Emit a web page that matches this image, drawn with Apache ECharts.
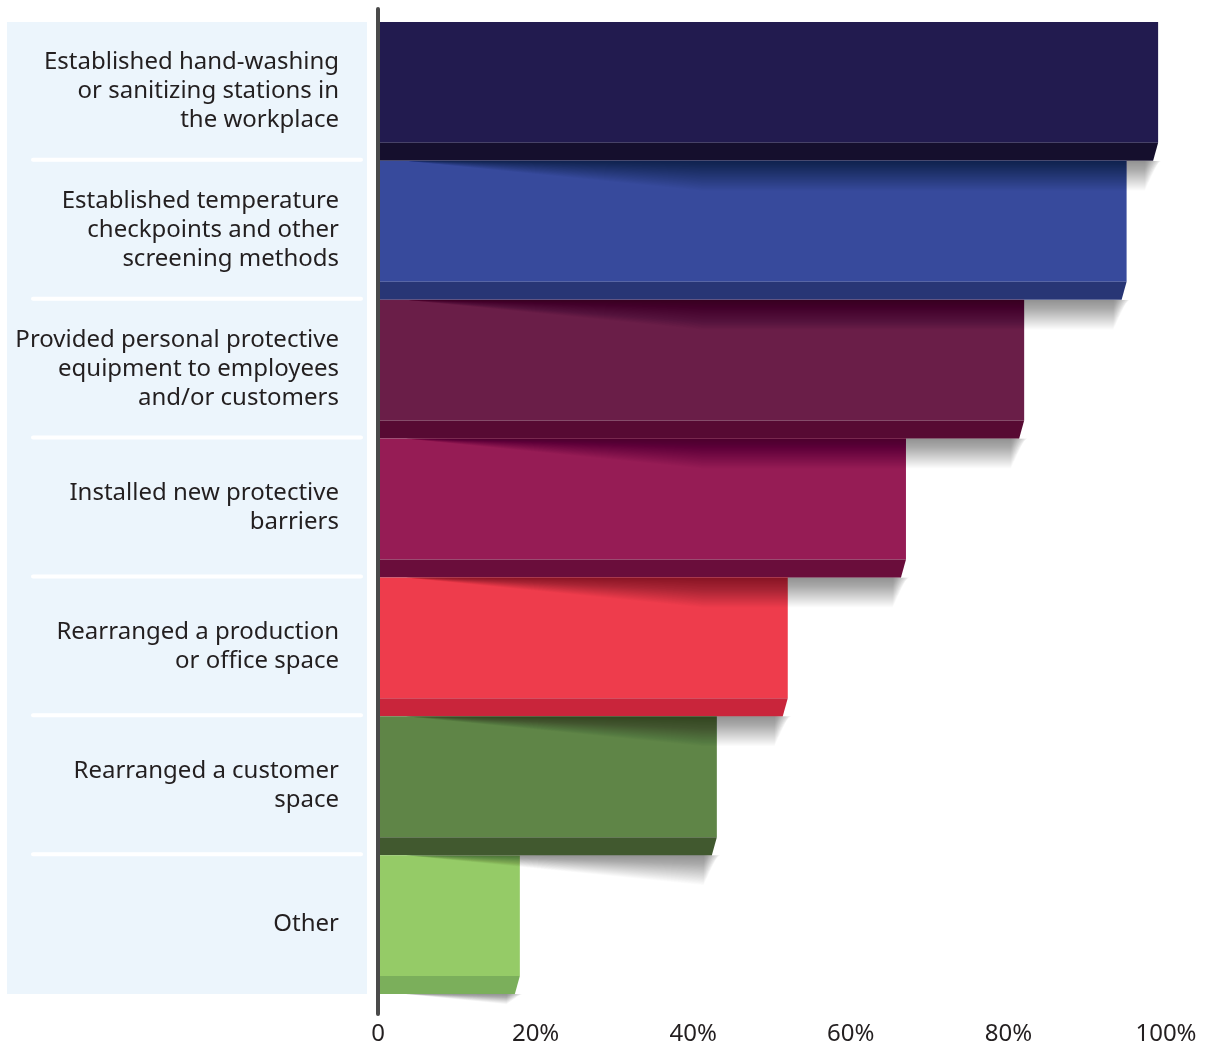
<!DOCTYPE html>
<html>
<head>
<meta charset="utf-8">
<title>Workplace safety measures</title>
<script src="https://cdn.jsdelivr.net/npm/echarts@6/dist/echarts.min.js"></script>
<style>
  html, body { margin: 0; padding: 0; background: #ffffff; }
  #chart { width: 1207px; height: 1050px; }
</style>
</head>
<body>
<div id="chart"></div>
<script>
// Measures taken, share of respondents (%)
const categories = [
  'Established hand-washing\nor sanitizing stations in\nthe workplace',
  'Established temperature\ncheckpoints and other\nscreening methods',
  'Provided personal protective\nequipment to employees\nand/or customers',
  'Installed new protective\nbarriers',
  'Rearranged a production\nor office space',
  'Rearranged a customer\nspace',
  'Other'
];
const shares = [99, 95, 82, 67, 52, 43, 18];
const tickValues = [0, 20, 40, 60, 80, 100];

// Front face and lower bevel colour for each bar
const faceColors = ['#221B4F', '#374A9C', '#6A1E48', '#961C55', '#EE3C4C', '#5F8547', '#95CB67'];
const edgeColors = ['#150F2D', '#283675', '#570A33', '#6A0D3B', '#C9253B', '#41592F', '#7BAF5B'];

const FONT = '"Noto Sans", "Open Sans", sans-serif';
const EDGE = 18;      // height of the bevel strip under each bar
const SLANT = 5;      // inward slant of the bevel's right end

const chart = echarts.init(document.getElementById('chart'), null, { renderer: 'canvas' });

function bandOf(api, cat) {
  const c = api.coord([0, cat]);
  const h = api.size([0, 1])[1];
  return { x0: c[0], top: c[1] - h / 2, bottom: c[1] + h / 2, h: h };
}

// Bar body: flat face plus a darker bevel along the bottom
function renderBar(params, api) {
  const i = params.dataIndex;
  const v = api.value(0);
  const cat = api.value(1);
  const b = bandOf(api, cat);
  const x1 = api.coord([v, cat])[0];
  return {
    type: 'group',
    children: [
      {
        type: 'rect',
        shape: { x: b.x0, y: b.top, width: x1 - b.x0, height: b.h - EDGE },
        style: { fill: faceColors[i] }
      },
      {
        type: 'polygon',
        shape: { points: [[b.x0, b.bottom - EDGE], [x1, b.bottom - EDGE], [x1 - SLANT, b.bottom], [b.x0, b.bottom]] },
        style: { fill: edgeColors[i] }
      }
    ]
  };
}

// Soft wedge shadow under each bar: it grows from nothing near the baseline
// to a fixed depth, built from many faint stacked layers so it fades downwards.
function renderShadow(params, api) {
  const v = api.value(0);
  const cat = api.value(1);
  const b = bandOf(api, cat);
  const xs = b.x0 + 25;                       // where the wedge starts
  const xr = api.coord([v, cat])[0] - SLANT;  // bevel's lower right corner
  const y = b.bottom;
  const slope = 0.1;
  const maxDepth = 30;
  const depthAt = x => Math.min(maxDepth, Math.max(0, (x - xs) * slope));
  const xCap = Math.min(xr, xs + maxDepth / slope);
  const n = 40;
  const layers = [];
  for (let k = 1; k <= n; k++) {
    const f = k / n;
    const xe = xr + 6 - 14 * f;               // right end pulls in for the deeper layers
    const pts = [[xs, y], [xe + 4 * (1 - f), y]];
    pts.push([xe, y + depthAt(Math.min(xe, xr)) * f]);
    if (xCap < xe) pts.push([xCap, y + depthAt(xCap) * f]);
    pts.push([xs, y]);
    layers.push({
      type: 'polygon',
      shape: { points: pts },
      style: { fill: 'rgba(0,0,0,0.012)' }
    });
  }
  return { type: 'group', children: layers };
}

// White separators of the label panel
function renderFrame(params, api) {
  const n = categories.length;
  const children = [];
  for (let i = 1; i < n; i++) {
    const y = bandOf(api, i).top - 1;
    children.push({
      type: 'line',
      shape: { x1: 33, y1: y, x2: 361, y2: y },
      style: { stroke: '#ffffff', lineWidth: 4, lineCap: 'round' }
    });
  }
  return { type: 'group', children: children };
}

// Vertical baseline at zero, running a little past the bars
function renderBaseline(params, api) {
  const first = bandOf(api, 0);
  const last = bandOf(api, categories.length - 1);
  return {
    type: 'line',
    shape: { x1: first.x0, y1: first.top - 13, x2: first.x0, y2: last.bottom + 20 },
    style: { stroke: '#4A4A4A', lineWidth: 4, lineCap: 'round' }
  };
}

const barData = shares.map((v, i) => [v, i]);

chart.setOption({
  animation: false,
  backgroundColor: '#ffffff',
  textStyle: { fontFamily: FONT },
  graphic: [
    {
      type: 'rect',
      z: -10,
      left: 7,
      top: 22,
      shape: { width: 360, height: 972 },
      style: { fill: '#ECF5FC' }
    }
  ],
  grid: { left: 378, right: 41, top: 22, bottom: 56, containLabel: false },
  xAxis: {
    type: 'value',
    min: tickValues[0],
    max: tickValues[tickValues.length - 1],
    interval: 20,
    axisLine: { show: false },
    axisTick: { show: false },
    splitLine: { show: false },
    axisLabel: {
      margin: 28,
      fontSize: 24,
      fontFamily: FONT,
      color: '#231F20',
      formatter: v => (v === 0 ? '0' : v + '%')
    }
  },
  yAxis: {
    type: 'category',
    inverse: true,
    data: categories,
    axisLine: { show: false },
    axisTick: { show: false },
    splitLine: { show: false },
    axisLabel: {
      margin: 39,
      fontSize: 24,
      lineHeight: 29,
      fontFamily: FONT,
      color: '#231F20',
      align: 'right'
    }
  },
  series: [
    {
      type: 'custom',
      name: 'frame',
      clip: false,
      z: 1,
      silent: true,
      renderItem: renderFrame,
      encode: { x: 0, y: 1 },
      data: [[0, 0]]
    },
    {
      type: 'custom',
      name: 'bars',
      clip: false,
      z: 2,
      renderItem: renderBar,
      encode: { x: 0, y: 1 },
      data: barData
    },
    {
      type: 'custom',
      name: 'shadows',
      clip: false,
      z: 3,
      silent: true,
      renderItem: renderShadow,
      encode: { x: 0, y: 1 },
      data: barData
    },
    {
      type: 'custom',
      name: 'baseline',
      clip: false,
      z: 4,
      silent: true,
      renderItem: renderBaseline,
      encode: { x: 0, y: 1 },
      data: [[0, 0]]
    }
  ]
});
</script>
</body>
</html>
